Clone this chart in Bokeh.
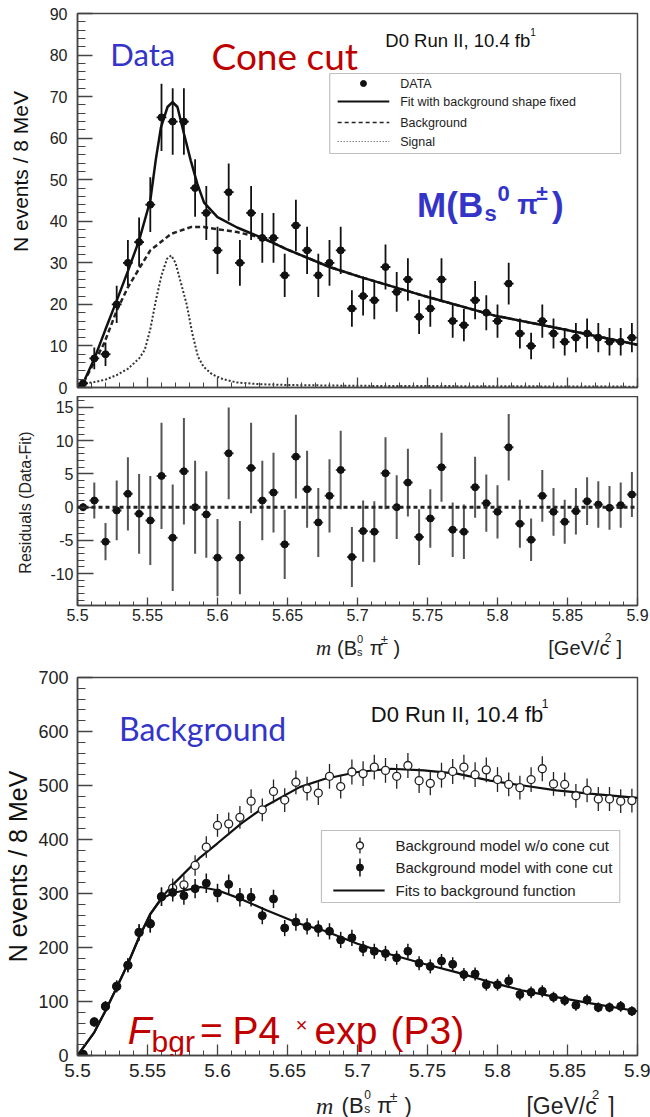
import numpy as np
from bokeh.plotting import figure
from bokeh.layouts import column, row
from bokeh.models import Label, BoxAnnotation, FixedTicker, ColumnDataSource, Span, Range1d
from bokeh.embed import file_html
from bokeh.resources import INLINE

# ---------------- data ----------------
mass = [5.504, 5.512, 5.520, 5.528, 5.536, 5.544, 5.552, 5.560, 5.568, 5.576,
        5.584, 5.592, 5.600, 5.608, 5.616, 5.624, 5.632, 5.640, 5.648, 5.656,
        5.664, 5.672, 5.680, 5.688, 5.696, 5.704, 5.712, 5.720, 5.728, 5.736,
        5.744, 5.752, 5.760, 5.768, 5.776, 5.784, 5.792, 5.800, 5.808, 5.816,
        5.824, 5.832, 5.840, 5.848, 5.856, 5.864, 5.872, 5.880, 5.888, 5.896]

data_counts = [1, 7, 8, 20, 30, 35, 44, 65, 64, 64, 48, 42, 33, 47, 30, 42, 36, 36, 27, 39,
               33, 27, 30, 33, 19, 22, 21, 29, 23, 26, 17, 19, 26, 16, 15, 21, 18, 16, 25, 13,
               10, 16, 13, 11, 12, 13, 12, 11, 11, 12]
data_err = [1.0, 2.6, 2.8, 4.5, 5.5, 5.9, 6.6, 8.1, 8.0, 8.0, 6.9, 6.5, 5.7, 6.9, 5.5, 6.5, 6.0, 6.0, 5.2, 6.2,
            5.7, 5.2, 5.5, 5.7, 4.4, 4.7, 4.6, 5.4, 4.8, 5.1, 4.1, 4.4, 5.1, 4.0, 3.9, 4.6, 4.2, 4.0, 5.0, 3.6,
            3.2, 4.0, 3.6, 3.3, 3.5, 3.6, 3.5, 3.3, 3.3, 3.5]

fit_x = [5.500, 5.504, 5.512, 5.520, 5.528, 5.536, 5.544, 5.552, 5.556, 5.5596, 5.5643, 5.5678,
         5.5714, 5.5761, 5.5809, 5.5856, 5.5904, 5.600, 5.614, 5.632, 5.650, 5.680, 5.703,
         5.751, 5.798, 5.846, 5.900]
fit_y = [0.0, 1.0, 6.9, 14.0, 20.9, 28.0, 35.4, 45.0, 55.0, 62.6, 67.5, 68.7,
         67.5, 61.0, 54.6, 49.0, 44.5, 41.0, 38.5, 36.0, 33.2, 29.0, 26.5,
         21.7, 17.3, 14.1, 10.3]

bkg_x = [5.500, 5.504, 5.519, 5.528, 5.536, 5.544, 5.552, 5.567, 5.581, 5.590, 5.614, 5.632,
         5.650, 5.680, 5.703, 5.751, 5.798, 5.846, 5.900]
bkg_y = [0.0, 1.0, 10.6, 18.5, 24.1, 28.6, 33.0, 37.0, 38.6, 38.6, 37.4, 36.0,
         33.2, 29.0, 26.5, 21.7, 17.3, 14.1, 10.3]

sig_x = [5.500, 5.512, 5.520, 5.528, 5.536, 5.544, 5.548, 5.552, 5.556, 5.560, 5.564, 5.567,
         5.570, 5.574, 5.578, 5.582, 5.586, 5.590, 5.596, 5.604, 5.614, 5.630, 5.650, 5.700,
         5.800, 5.900]
sig_y = [0.8, 1.3, 1.9, 3.0, 4.5, 7.0, 9.0, 14.0, 21.0, 27.0, 31.0, 31.8,
         30.0, 25.0, 20.0, 13.0, 7.5, 5.0, 3.2, 2.0, 1.2, 0.8, 0.6, 0.4,
         0.3, 0.2]

resid = [0.0, 1.0, -5.2, -0.5, 2.0, -1.0, -2.0, 4.7, -4.6, 5.4, 0.0, -1.1, -7.6, 8.1, -7.6, 5.9,
         1.0, 2.2, -5.6, 7.6, 2.7, -2.3, 1.7, 5.6, -7.5, -3.6, -3.7, 5.1, 0.0, 3.7, -4.5, -1.7,
         6.0, -3.4, -3.7, 3.0, 0.6, -0.7, 9.0, -2.5, -4.9, 1.7, -0.7, -2.2, -0.6, 0.9, 0.4, -0.1,
         0.3, 1.9]
resid_err = [0.6, 2.7, 2.8, 4.5, 5.5, 6.0, 6.7, 8.0, 8.0, 8.0, 7.0, 6.5, 5.8, 6.9, 5.5, 6.8,
             6.0, 6.0, 5.2, 6.3, 5.8, 5.2, 5.5, 5.9, 4.5, 4.6, 4.6, 5.4, 4.8, 5.1, 4.2, 4.4,
             5.2, 4.1, 4.1, 4.6, 4.3, 4.0, 5.0, 3.6, 3.2, 3.9, 3.6, 3.3, 3.5, 3.6, 3.5, 3.3,
             3.4, 3.4]

bg_nocone = [2, 62, 91, 128, 167, 228, 244, 294, 310, 316, 352, 386, 426, 429, 441, 471, 455, 489,
             473, 506, 494, 486, 517, 498, 525, 522, 534, 528, 517, 537, 509, 504, 519, 526, 534,
             520, 529, 511, 502, 496, 511, 531, 503, 502, 481, 491, 475, 475, 471, 472]
bg_nocone_err = [2, 8, 10, 11, 13, 15, 16, 17, 18, 18, 19, 20, 21, 21, 21, 22, 21, 22,
                 22, 22, 22, 22, 23, 22, 23, 23, 23, 23, 23, 23, 23, 22, 23, 23, 23,
                 23, 23, 23, 22, 22, 23, 23, 22, 22, 22, 22, 22, 22, 22, 22]
bg_cone = [2, 62, 91, 128, 167, 228, 244, 294, 302, 296, 309, 319, 301, 317, 293, 293, 259, 290,
           236, 247, 239, 235, 230, 214, 218, 198, 193, 189, 181, 193, 171, 165, 175, 169, 150,
           151, 131, 131, 138, 113, 117, 119, 108, 102, 93, 103, 89, 89, 91, 82]
bg_cone_err = [2, 8, 10, 11, 13, 15, 16, 17, 17, 17, 18, 18, 17, 18, 17, 17, 16, 17,
               15, 16, 15, 15, 15, 15, 15, 14, 14, 14, 13, 14, 13, 13, 13, 13, 12,
               12, 11, 11, 12, 11, 11, 11, 10, 10, 10, 10, 9, 9, 10, 9]

bgfit_x = [5.500, 5.512, 5.520, 5.528, 5.536, 5.544, 5.552, 5.560, 5.568, 5.5877, 5.600, 5.6166,
           5.635, 5.6587, 5.6763, 5.700, 5.7237, 5.7473, 5.771, 5.7947, 5.8184, 5.842, 5.8657, 5.900]
bgfit_nocone = [0, 43, 83, 126, 170, 219, 262, 292, 316, 367, 393, 429,
                463, 497, 512, 525, 531, 528, 522, 509, 500, 491, 485, 477]
bgfit_cone = [0, 43, 83, 126, 170, 219, 262, 290, 301, 312, 306, 290,
              269, 244, 231, 207, 187, 170, 154, 136, 120, 108, 97, 82]

x_ticks = [5.5, 5.55, 5.6, 5.65, 5.7, 5.75, 5.8, 5.85, 5.9]
x_tick_labels = ["5.5", "5.55", "5.6", "5.65", "5.7", "5.75", "5.8", "5.85", "5.9"]
top_y_ticks = [0, 10, 20, 30, 40, 50, 60, 70, 80, 90]
res_y_ticks = [-10, -5, 0, 5, 10, 15]
bot_y_ticks = [0, 100, 200, 300, 400, 500, 600, 700]

# ---------------- helpers ----------------
FONT = "Liberation Sans"
AX = "#444444"
STRIP_W = 35
BLUE = "#3434c8"
RED = "#c00000"


def make_fig(h, left, right, top, bottom, yr):
    p = figure(width=650 - STRIP_W, height=h, min_border_left=left - STRIP_W,
               min_border_right=right, min_border_top=top, min_border_bottom=bottom,
               x_range=(5.5, 5.9), y_range=yr, output_backend="svg",
               toolbar_location=None)
    p.grid.visible = False
    p.outline_line_color = AX
    p.outline_line_width = 1.5
    p.background_fill_color = "white"
    p.border_fill_color = "white"
    return p


def make_strip(w, h, x0, x1, ytop, ybot):
    s = figure(width=w, height=h, x_range=Range1d(x0, x1), y_range=Range1d(ybot, ytop),
               min_border_left=0, min_border_right=0, min_border_top=0, min_border_bottom=0,
               x_axis_location=None, y_axis_location=None, output_backend="svg",
               toolbar_location=None)
    s.grid.visible = False
    s.outline_line_color = None
    s.background_fill_color = "white"
    s.border_fill_color = "white"
    return s


def style_axis(ax, ticks, labels, minor, tin, min_in, size, standoff):
    ax.ticker = FixedTicker(ticks=ticks, minor_ticks=minor)
    ax.major_label_overrides = {t: l for t, l in zip(ticks, labels)}
    ax.major_tick_in = tin
    ax.major_tick_out = 0
    ax.minor_tick_in = min_in
    ax.minor_tick_out = 0
    ax.axis_line_color = AX
    ax.axis_line_width = 1.5
    ax.major_tick_line_color = AX
    ax.minor_tick_line_color = AX
    ax.major_tick_line_width = 1.3
    ax.minor_tick_line_width = 1.0
    ax.major_label_text_font = FONT
    ax.major_label_text_font_size = size
    ax.major_label_text_color = "#222222"
    ax.major_label_standoff = standoff


x_minor = list(np.round(np.arange(5.5, 5.9001, 0.01), 3))


def conv_factory(left, top, fw, fh, y0, y1):
    def conv(px, py):
        x = 5.5 + (px - left) / fw * 0.4
        y = y0 + ((top + fh) - py) / fh * (y1 - y0)
        return x, y
    return conv


def ident(px, py):
    return px, py


def lab(p, conv, px, py, text, size, color="#111111", font=FONT, style="normal",
        align="left", baseline="alphabetic", angle=0.0):
    x, y = conv(px, py)
    p.add_layout(Label(x=x, y=y, text=text, text_font_size=f"{size}px", text_color=color,
                       text_font=font, text_font_style=style, text_align=align,
                       text_baseline=baseline, angle=angle))


def errorbars(p, xs, ys, es, color, width, half=0.0035):
    src = ColumnDataSource(dict(x=xs, lo=[y - e for y, e in zip(ys, es)],
                                hi=[y + e for y, e in zip(ys, es)], y=ys,
                                xl=[x - half for x in xs], xr=[x + half for x in xs]))
    p.segment(x0="x", y0="lo", x1="x", y1="hi", source=src, line_color=color, line_width=width)
    if half > 0:
        p.segment(x0="xl", y0="y", x1="xr", y1="y", source=src, line_color=color, line_width=width)


# ---------------- left strip with the y-axis titles ----------------
ys = make_strip(STRIP_W, 1117, 0, STRIP_W, 0, 1117)
lab(ys, ident, 20, 171, "N events / 8 MeV", 21, angle=np.pi / 2, align="center", baseline="middle")
lab(ys, ident, 25, 502, "Residuals (Data-Fit)", 16, angle=np.pi / 2, align="center",
    baseline="middle", color="#222222")
lab(ys, ident, 17, 866, "N events / 8 MeV", 25, angle=np.pi / 2, align="center", baseline="middle")

# ---------------- top panel ----------------
p1 = make_fig(396, 73, 13, 13, 9, (0, 90))
c1 = conv_factory(73, 13, 564, 374, 0, 90)
style_axis(p1.yaxis[0], top_y_ticks, [str(t) for t in top_y_ticks], list(range(0, 91, 2)),
           15, 8, "16px", 10)
style_axis(p1.xaxis[0], x_ticks, [" "] * len(x_ticks), x_minor, 10, 5, "1px", 0)

p1.line(sig_x, sig_y, line_color="#333333", line_width=2, line_dash="2 2")
p1.line(bkg_x, bkg_y, line_color="#222222", line_width=2.5, line_dash="5 3")
p1.line(fit_x, fit_y, line_color="#111111", line_width=2.5)
errorbars(p1, mass, data_counts, data_err, "#111111", 1.8)
p1.scatter(mass, data_counts, marker="circle", size=7, color="#111111")

lab(p1, c1, 106, 53, "Data", 31, color=BLUE, font="Lato")
lab(p1, c1, 208, 55, "Cone cut", 37, color=RED, font="Lato")
lab(p1, c1, 383, 40, "D0 Run II, 10.4 fb", 18.5, color="#111111")
lab(p1, c1, 529, 31, "1", 10, color="#111111")

# legend (top)
bx0, by0 = c1(327, 153)
bx1, by1 = c1(620, 73)
p1.add_layout(BoxAnnotation(left=bx0, right=bx1, bottom=by0, top=by1, fill_color="white",
                            fill_alpha=1.0, line_color="#333333", line_width=1.2, level="underlay"))
lx0, _ = c1(335, 0)
lx1, _ = c1(387, 0)
mx, my = c1(361, 83)
p1.scatter([mx], [my], marker="circle", size=6, color="#111111")
_, ly = c1(0, 101)
p1.line([lx0, lx1], [ly, ly], line_color="#111111", line_width=2)
_, ly = c1(0, 122)
p1.line([lx0, lx1], [ly, ly], line_color="#222222", line_width=1.6, line_dash="4 3")
_, ly = c1(0, 141)
p1.line([lx0, lx1], [ly, ly], line_color="#444444", line_width=1.2, line_dash="1 2")
for yy, t in [(83, "DATA"), (101, "Fit with background shape fixed"), (122, "Background"), (141, "Signal")]:
    lab(p1, c1, 398, yy, t, 12.5, color="#222222", baseline="middle")

# M(Bs0 pi+-)
lab(p1, c1, 415, 204, "M(B", 35, color=BLUE, style="bold")
lab(p1, c1, 483, 213, "s", 22, color=BLUE, style="bold")
lab(p1, c1, 496, 193, "0", 22, color=BLUE, style="bold")
lab(p1, c1, 516, 204, "\u03c0", 27, color=BLUE, style="bold")
lab(p1, c1, 535, 192, "\u00b1", 21, color=BLUE, style="bold")
lab(p1, c1, 551, 204, ")", 35, color=BLUE, style="bold")

# ---------------- residual panel ----------------
p2 = make_fig(234, 73, 13, 0, 25, (-14.8, 16.65))
style_axis(p2.yaxis[0], res_y_ticks, [str(t) for t in res_y_ticks], list(range(-14, 17)),
           16, 7, "16px", 4)
style_axis(p2.xaxis[0], x_ticks, x_tick_labels, x_minor, 8, 4, "16px", 3)
p2.add_layout(Span(location=0, dimension="width", line_color="#222222", line_width=3,
                   line_dash="4 3"))
errorbars(p2, mass, resid, resid_err, "#555555", 2)
p2.scatter(mass, resid, marker="circle", size=7, color="#111111")

# x title strip under residual panel (page y 630..664)
xs2 = make_strip(650 - STRIP_W, 34, STRIP_W, 650, 630, 664)
lab(xs2, ident, 297, 647, "m", 21, font="Liberation Serif", style="italic", color="#222222")
lab(xs2, ident, 320, 647, "(B", 20, color="#222222")
lab(xs2, ident, 342, 638, "0", 11, color="#222222")
lab(xs2, ident, 342, 651, "s", 11, color="#222222")
lab(xs2, ident, 356, 647, "\u03c0", 20, color="#222222")
lab(xs2, ident, 368, 639, "\u00b1", 13, color="#222222")
lab(xs2, ident, 382, 647, ")", 20, color="#222222")
lab(xs2, ident, 552, 647, "[GeV/c", 20, color="#222222")
lab(xs2, ident, 614, 637, "2", 12, color="#222222")
lab(xs2, ident, 627, 647, "]", 20, color="#222222")

# ---------------- background panel ----------------
p3 = make_fig(421, 76, 7, 13, 30, (0, 700))
c3 = conv_factory(76, 677, 567, 378, 0, 700)
style_axis(p3.yaxis[0], bot_y_ticks, [str(t) for t in bot_y_ticks], list(range(0, 701, 20)),
           15, 8, "18px", 9)
style_axis(p3.xaxis[0], x_ticks, x_tick_labels, x_minor, 11, 5, "19px", 8)

p3.line(bgfit_x, bgfit_nocone, line_color="#111111", line_width=2.2)
p3.line(bgfit_x, bgfit_cone, line_color="#111111", line_width=2.2)
errorbars(p3, mass, bg_nocone, bg_nocone_err, "#222222", 1.3, half=0.0)
p3.scatter(mass, bg_nocone, marker="circle", size=8, fill_color="white", line_color="#222222",
           line_width=1.3)
errorbars(p3, mass, bg_cone, bg_cone_err, "#111111", 1.5, half=0.0)
p3.scatter(mass, bg_cone, marker="circle", size=8, color="#111111")

lab(p3, c3, 118, 728, "Background", 32, color=BLUE, font="Lato")
lab(p3, c3, 373, 714, "D0 Run II, 10.4 fb", 22, color="#111111")
lab(p3, c3, 546, 703, "1", 12, color="#111111")

bx0, by0 = c3(323, 902)
bx1, by1 = c3(625, 830)
p3.add_layout(BoxAnnotation(left=bx0, right=bx1, bottom=by0, top=by1, fill_color="white",
                            fill_alpha=1.0, line_color="#333333", line_width=1.2, level="underlay"))
mx, my = c3(362, 845)
_, my_lo = c3(0, 853)
_, my_hi = c3(0, 837)
p3.segment([mx], [my_lo], [mx], [my_hi], line_color="#222222", line_width=1.3)
p3.scatter([mx], [my], marker="circle", size=7, fill_color="white", line_color="#222222", line_width=1.3)
mx, my = c3(362, 867)
_, my_lo = c3(0, 876)
_, my_hi = c3(0, 858)
p3.segment([mx], [my_lo], [mx], [my_hi], line_color="#111111", line_width=1.5)
p3.scatter([mx], [my], marker="circle", size=7, color="#111111")
lx0, ly = c3(335, 890)
lx1, _ = c3(387, 890)
p3.line([lx0, lx1], [ly, ly], line_color="#111111", line_width=2)
for yy, t in [(845, "Background model w/o cone cut"), (867, "Background model with cone cut"),
              (890, "Fits to background function")]:
    lab(p3, c3, 398, yy, t, 15, color="#222222", baseline="middle")

lab(p3, c3, 127, 1030, "F", 39, color=RED, style="italic")
lab(p3, c3, 151, 1041, "bgr", 30, color=RED)
lab(p3, c3, 200, 1030, "=", 39, color=RED)
lab(p3, c3, 233, 1030, "P4", 39, color=RED)
lab(p3, c3, 297, 1024, "\u00d7", 20, color=RED)
lab(p3, c3, 316, 1030, "exp", 39, color=RED)
lab(p3, c3, 393, 1030, "(P3)", 39, color=RED)

# x title strip under background panel (page y 1085..1117)
xs3 = make_strip(650 - STRIP_W, 32, STRIP_W, 650, 1085, 1117)
lab(xs3, ident, 297, 1105, "m", 24, font="Liberation Serif", style="italic", color="#222222")
lab(xs3, ident, 325, 1105, "(B", 22, color="#222222")
lab(xs3, ident, 350, 1094, "0", 12, color="#222222")
lab(xs3, ident, 350, 1108, "s", 12, color="#222222")
lab(xs3, ident, 364, 1105, "\u03c0", 22, color="#222222")
lab(xs3, ident, 378, 1096, "\u00b1", 14, color="#222222")
lab(xs3, ident, 394, 1105, ")", 22, color="#222222")
lab(xs3, ident, 528, 1105, "[GeV/c", 23, color="#222222")
lab(xs3, ident, 600, 1094, "2", 13, color="#222222")
lab(xs3, ident, 618, 1105, "]", 23, color="#222222")

layout = row(ys, column(p1, p2, xs2, p3, xs3, spacing=0), spacing=0)
open("out.html", "w").write(file_html(layout, INLINE))
